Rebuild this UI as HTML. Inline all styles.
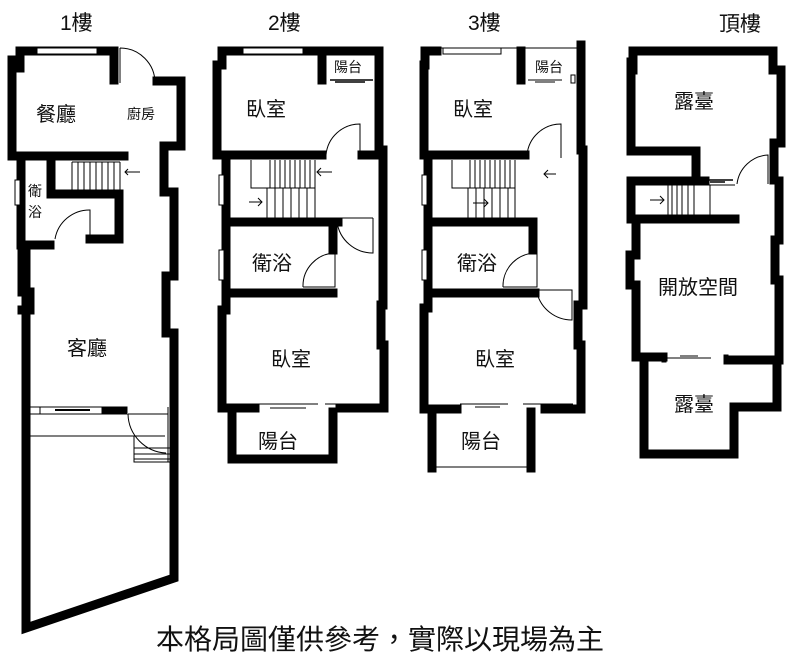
<!DOCTYPE html>
<html><head><meta charset="utf-8"><style>
html,body{margin:0;padding:0;background:#fff;}
svg{display:block}
text{font-family:"Liberation Sans","Noto Sans CJK TC",sans-serif;fill:#111}
</style></head><body>
<svg width="800" height="661" viewBox="0 0 800 661" xmlns="http://www.w3.org/2000/svg">
<g fill="none" stroke="#000" stroke-width="9" stroke-linejoin="miter" stroke-linecap="square">
<!-- 1F -->
<path d="M20,68 V51 H114 V80"/>
<path d="M12,60 V156 H124"/>
<path d="M157,81 H181 V146 H164 V192 H174 V276 H166 V333 H174 V578 L26,628 V246"/>
<path d="M21,160 V245 H50"/>
<path d="M51,160 V194 H119 V239 H90"/>
<path d="M22,246 V292 H30 V310 H22"/>
<!-- 2F -->
<path d="M222,65 V51 H379 V150 H383 V305 H381 V345 H384 V408 H340"/>
<path d="M217,65 V155 H322"/>
<path d="M322,51 V80"/>
<path d="M362,155 H378"/>
<path d="M226,160 V222 H338"/>
<path d="M333,222 V250"/>
<path d="M226,226 V293 H333"/>
<path d="M226,297 V310 H222 V408 H255"/>
<path d="M232,412 V459 H333 V412"/>
<!-- 3F -->
<path d="M425,65 V51 H437"/>
<path d="M581,45 V150 H583 V305 H578 V345 H581 V409 H545"/>
<path d="M424,65 V155 H525"/>
<path d="M521,51 V80"/>
<path d="M428,160 V222 H533 V250"/>
<path d="M428,226 V293 H535"/>
<path d="M428,297 V308 H424 V409 H457"/>
<path d="M432,412 V468 M531,412 V468"/>
<!-- Top -->
<path d="M633,70 V51 H773 V70 H781 V143 H774 V180"/>
<path d="M631,62 V151 H696 V181 H705"/>
<path d="M631,181 H696 M631,181 V219 H735"/>
<path d="M779,181 V240 H775 V280 H779 V360 H728"/>
<path d="M636,223 V255 H630 V285 H636 V357 H663"/>
<path d="M644,361 V454 H734 V407 H777 V361"/>
</g>
<g fill="none" stroke="#000" stroke-width="1">
<rect x="37" y="48" width="60" height="6" fill="#fff"/>
<path d="M120,48 V83 M120,48 A35,35 0 0 1 155,83"/>
<rect x="15" y="180" width="5" height="25" fill="#fff"/>
<path d="M55,239 A35,35 0 0 1 90,210 V239"/>
<path d="M72,162 H120 M72,162 V190"/>
<path d="M78,162V190M84,162V190M90,162V190M96,162V190M102,162V190M108,162V190M114,162V190M120,162V190"/>
<path d="M140,172 H125 M128,169 L125,172 L128,175"/>
<rect x="26" y="407" width="100" height="7" fill="none"/>
<rect x="40" y="407" width="62" height="7" fill="#fff"/>
<rect x="102" y="407" width="25" height="7" fill="#000"/>
<rect x="22" y="405" width="8" height="9" fill="#000"/>
<path d="M55,410 H90" stroke-width="2"/>
<path d="M128,414 H168 M26,436 H165 M128,414 A40,40 0 0 0 166,453 M134,436 V462 H170 M134,448H170M134,454H170M134,459H170 M168,407 V462"/>
<rect x="243" y="48" width="60" height="6" fill="#fff"/>
<path d="M330,80 H373 M335,82 H365" stroke-width="1.5"/>
<path d="M326,155 A34,34 0 0 1 360,124 V158"/>
<rect x="219" y="175" width="5" height="30" fill="#fff"/>
<path d="M251,160 V188 H315 M267,188 V218 M270,160V188M275,160V188M280,160V188M285,160V188M290,160V188M295,160V188M300,160V188M305,160V188M310,160V188M315,160V218"/>
<path d="M275,188V218M283,188V218M291,188V218M299,188V218M307,188V218"/>
<path d="M332,172 H317 M321,168 L317,172 L321,176 M249,202 H262 M258,198 L262,202 L258,206"/>
<path d="M337,218 H373 M337,222 A36,36 0 0 0 373,253 V218"/>
<rect x="219" y="250" width="5" height="30" fill="#fff"/>
<path d="M303,287 A33,33 0 0 1 335,253 V287 H303"/>
<path d="M258,404 H318 M270,408 H306 M325,404 H375 M345,408 H362"/>
<rect x="443" y="48" width="58" height="6" fill="#fff"/>
<path d="M437,48 H577 M528,80 H562 M535,82 H555"/>
<rect x="571" y="75" width="4" height="8"/>
<path d="M527,155 A34,34 0 0 1 561,124 V158"/>
<rect x="422" y="175" width="5" height="30" fill="#fff"/>
<path d="M452,160 V188 H515 M468,188 V218 M470,160V188M475,160V188M480,160V188M485,160V188M490,160V188M495,160V188M500,160V188M505,160V188M510,160V188M515,160V218"/>
<path d="M476,188V218M484,188V218M492,188V218M500,188V218M508,188V218"/>
<path d="M556,174 H544 M548,170 L544,174 L548,178 M473,203 H488 M484,199 L488,203 L484,207"/>
<rect x="422" y="250" width="5" height="30" fill="#fff"/>
<path d="M503,287 A33,33 0 0 1 537,253 V287 H503"/>
<path d="M537,293 A36,36 0 0 0 572,320 V290 H537"/>
<path d="M460,404 H508 M475,407 H500 M523,404 H573 M548,407 H565 M436,467 H531"/>
<path d="M705,180 H733 M710,182 H725" stroke-width="1.5"/>
<path d="M737,184 A33,33 0 0 1 768,155 V184"/>
<path d="M668,185 V215 M672,185V215M677,185V215M682,185V215M688,185V215M694,185V215M710,185V215 M668,185 H735"/>
<path d="M650,200 H664 M660,196 L664,200 L660,204"/>
<path d="M665,358 H711 M680,356 H698"/>
<rect x="662" y="355" width="4" height="7"/>
<rect x="724" y="355" width="4" height="7"/>
</g>
<g font-size="21">
<text x="60" y="30">1樓</text>
<text x="268" y="30">2樓</text>
<text x="468" y="30">3樓</text>
<text x="719" y="31">頂樓</text>
</g>
<g font-size="20">
<text x="36" y="121">餐廳</text>
<text x="67" y="355">客廳</text>
<text x="246" y="116">臥室</text>
<text x="252" y="270">衛浴</text>
<text x="271" y="366">臥室</text>
<text x="258" y="448">陽台</text>
<text x="453" y="116">臥室</text>
<text x="457" y="270">衛浴</text>
<text x="475" y="366">臥室</text>
<text x="461" y="448">陽台</text>
<text x="674" y="108">露臺</text>
<text x="658" y="294">開放空間</text>
<text x="674" y="411">露臺</text>
</g>
<g font-size="14">
<text x="127" y="119">廚房</text>
<text x="28" y="196">衛</text>
<text x="28" y="217">浴</text>
<text x="334" y="72">陽台</text>
<text x="535" y="72">陽台</text>
</g>
<text x="156" y="649" font-size="28">本格局圖僅供參考，實際以現場為主</text>
</svg>
</body></html>
